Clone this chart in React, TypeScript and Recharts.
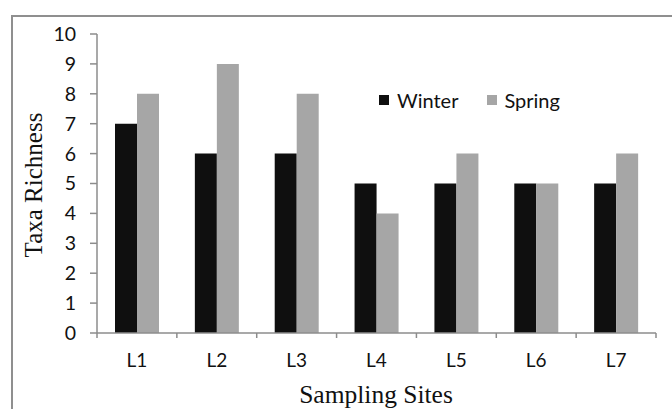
import React from 'react';
import { BarChart, Bar, XAxis, YAxis } from 'recharts';

const categories = ['L1', 'L2', 'L3', 'L4', 'L5', 'L6', 'L7'];
const winter = [7, 6, 6, 5, 5, 5, 5];
const spring = [8, 9, 8, 4, 6, 5, 6];
const yTicks = [0, 1, 2, 3, 4, 5, 6, 7, 8, 9, 10];
const seriesNames = ['Winter', 'Spring'];

const data = categories.map((c, i) => ({ site: c, Winter: winter[i], Spring: spring[i] }));

const WINTER = '#0f0f0f';
const SPRING = '#a6a6a6';
const AXIS = '#8c8c8c';
const TICKFONT = 'Lato, "Open Sans", sans-serif';
const SERIF = '"Liberation Serif", "Times New Roman", serif';
const X_TICK_MARGIN = 21;
const X_TICK_LEN = 5;

const CatTick = (props: any) => {
  const { x, y, payload, index, visibleTicksCount } = props;
  const axisY = y - X_TICK_MARGIN;
  const half = payload.offset || 0;
  const isLast = index === visibleTicksCount - 1;
  return (
    <g>
      <line x1={x - half} x2={x - half} y1={axisY} y2={axisY + X_TICK_LEN} stroke={AXIS} strokeWidth={1.5} />
      {isLast && (
        <line x1={x + half} x2={x + half} y1={axisY} y2={axisY + X_TICK_LEN} stroke={AXIS} strokeWidth={1.5} />
      )}
      <text x={x} y={y} dy="0.71em" textAnchor="middle" fill="#111" fontSize={19} fontFamily={TICKFONT}>
        {payload.value}
      </text>
    </g>
  );
};

export default function App() {
  return (
    <div style={{ position: 'absolute', left: 0, top: 0, width: 672, height: 409, overflow: 'hidden', background: '#fff' }}>
      <div style={{ position: 'absolute', left: 11, top: 15, width: 700, height: 500, border: `2px solid #8f8f8f`, boxSizing: 'border-box' }} />
      <BarChart
        width={672}
        height={409}
        data={data}
        margin={{ top: 34, right: 16, left: 0, bottom: 75 }}
        barGap={0}
        barSize={22}
        style={{ position: 'absolute', left: 0, top: 0 }}
      >
        <XAxis
          dataKey="site"
          height={1}
          axisLine={{ stroke: AXIS, strokeWidth: 1.5 }}
          tickLine={false}
          tickSize={0}
          tickMargin={X_TICK_MARGIN}
          tick={<CatTick />}
          interval={0}
        />
        <YAxis
          width={97}
          domain={[0, 10]}
          ticks={yTicks}
          interval={0}
          tickSize={7}
          tickMargin={14}
          axisLine={{ stroke: AXIS, strokeWidth: 1.5 }}
          tickLine={{ stroke: AXIS, strokeWidth: 1.5 }}
          tick={{ fill: '#111', fontSize: 19.5, fontFamily: TICKFONT }}
        />
        <Bar dataKey="Winter" fill={WINTER} isAnimationActive={false} />
        <Bar dataKey="Spring" fill={SPRING} isAnimationActive={false} />
      </BarChart>
      <div style={{ position: 'absolute', left: 379, top: 90, display: 'flex', alignItems: 'center', fontFamily: TICKFONT, fontSize: 20, color: '#111', lineHeight: '20px' }}>
        <span style={{ width: 10, height: 10, background: WINTER, display: 'inline-block', marginRight: 8 }} />
        <span style={{ marginRight: 29 }}>{seriesNames[0]}</span>
        <span style={{ width: 10, height: 10, background: SPRING, display: 'inline-block', marginRight: 7 }} />
        <span>{seriesNames[1]}</span>
      </div>
      <div style={{ position: 'absolute', left: 376, top: 383, transform: 'translateX(-50%)', fontFamily: SERIF, fontSize: 25.5, lineHeight: '24px', color: '#111', whiteSpace: 'nowrap' }}>
        Sampling Sites
      </div>
      <div style={{ position: 'absolute', left: 34, top: 185, transform: 'translate(-50%, -50%) rotate(-90deg)', fontFamily: SERIF, fontSize: 25, lineHeight: '24px', color: '#111', whiteSpace: 'nowrap' }}>
        Taxa Richness
      </div>
    </div>
  );
}
